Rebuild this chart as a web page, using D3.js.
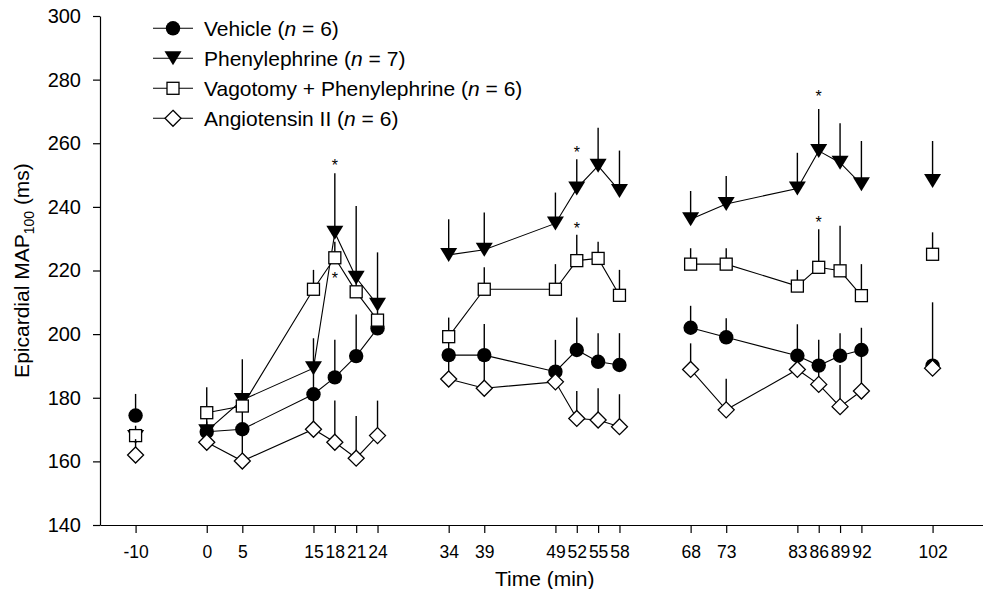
<!DOCTYPE html>
<html>
<head>
<meta charset="utf-8">
<script src="https://cdn.jsdelivr.net/npm/d3@7"></script>
<style>
body { margin: 0; background: #fff; }
svg { display: block; font-family: "Liberation Sans", Arial, Helvetica, sans-serif; }
</style>
</head>
<body>
<script>
var WIDTH = 983, HEIGHT = 589;

// sampling times (min) and which run of connected points each one belongs to
var times    = [-10, 0, 5, 15, 18, 21, 24, 34, 39, 49, 52, 55, 58, 68, 73, 83, 86, 89, 92, 102];
var segments = [  0, 1, 1,  1,  1,  1,  1,  2,  2,  2,  2,  2,  2,  3,  3,  3,  3,  3,  3,   4];

var vehicleMean = [174.4, 169.3, 170.1, 181.1, 186.4, 193.1, 201.8, 193.4, 193.4, 188.2, 195, 191.3, 190.3, 202, 199, 193.2, 190.1, 193.2, 195, 190.1];
var vehicleErr  = [6.8, 5, 6, 8, 11.8, 13.1, 4, 6, 9.8, 10, 10.2, 9, 10, 6.9, 6, 9.9, 8.1, 7.1, 7, 19.9];

var pheMean = [167.7, 169.5, 179.3, 189.3, 231.9, 217.7, 209.2, 224.9, 226.5, 234.8, 245.8, 252.9, 245, 236.1, 240.9, 245.8, 257.6, 253.9, 247.1, 248.1];
var pheErr  = [3.5, 3, 12.8, 9.4, 18.7, 22.6, 16.5, 11.2, 11.7, 9.7, 9.2, 12, 12.7, 8.9, 8.8, 11.2, 13.2, 12.4, 13.6, 12.6];

var vagMean = [168.1, 175.3, 177.4, 214.1, 224, 213.3, 204.4, 199.2, 214.1, 214.1, 223.1, 223.8, 212.2, 222, 222, 215.1, 221, 219.9, 212.1, 225.1];
var vagErr  = [2, 8, 5, 6.1, 5, 4, 3, 6, 6.9, 7.9, 8.1, 5.2, 8, 5, 5, 5.1, 12, 14.2, 9.9, 6.9];

var angMean = [162, 166, 160.1, 170.1, 166, 161, 168.1, 185.9, 183, 185, 173.5, 173, 170.9, 188.9, 176.2, 188.9, 184.2, 177.2, 182.1, 189.3];
var angErr  = [5, 3, 10, 10, 13.1, 13.3, 11, 6, 10, 5, 8.6, 10, 10.2, 8.2, 9.8, 5, 6, 13.1, 12, 2];

// significance marks
var starTimes  = [18, 18, 52, 52, 86, 86];
var starValues = [254.2, 218.6, 258.1, 234.3, 275.7, 236.1];

var yTicks = [140, 160, 180, 200, 220, 240, 260, 280, 300];

var series = [
    {label: "Vehicle", n: 6, mean: vehicleMean, err: vehicleErr, symbol: "circle"},
    {label: "Phenylephrine", n: 7, mean: pheMean, err: pheErr, symbol: "triangle"},
    {label: "Vagotomy + Phenylephrine", n: 6, mean: vagMean, err: vagErr, symbol: "square"},
    {label: "Angiotensin II", n: 6, mean: angMean, err: angErr, symbol: "diamond"}
];
// order the groups are painted in (later ones sit on top)
var drawOrder = [1, 0, 2, 3];

var svg = d3.select("body")
    .append("svg")
    .attr("width", WIDTH)
    .attr("height", HEIGHT);

var x = d3.scaleLinear().domain([-15, 110]).range([100, 989.5]);
var y = d3.scaleLinear().domain([140, 300]).range([525, 16]);

function drawSymbol(sel, type) {
    if (type === "circle") {
        sel.append("circle").attr("r", 7.2).attr("fill", "#000");
    } else if (type === "triangle") {
        sel.append("path").attr("d", "M-8.5,-7L8.5,-7L0,7Z").attr("fill", "#000");
    } else if (type === "square") {
        sel.append("rect").attr("x", -6).attr("y", -6).attr("width", 12).attr("height", 12)
            .attr("fill", "#fff").attr("stroke", "#000").attr("stroke-width", 1.3);
    } else {
        sel.append("path").attr("d", "M0,-8L8,0L0,8L-8,0Z")
            .attr("fill", "#fff").attr("stroke", "#000").attr("stroke-width", 1.3);
    }
}

// axes
var xAxis = d3.axisBottom(x)
    .tickValues(times)
    .tickFormat(function (d) { return d; })
    .tickSize(8)
    .tickSizeOuter(0)
    .tickPadding(12.5);

var gx = svg.append("g")
    .attr("transform", "translate(0," + y(140) + ")")
    .call(xAxis);
gx.selectAll("text").style("font-size", "17.5px").attr("fill", "#000");

var yAxis = d3.axisLeft(y)
    .tickValues(yTicks)
    .tickSize(7)
    .tickSizeOuter(0)
    .tickPadding(12);

var gy = svg.append("g")
    .attr("transform", "translate(" + x(-15) + ",0)")
    .call(yAxis);
gy.selectAll("text").style("font-size", "20px").attr("fill", "#000");

svg.selectAll(".domain, .tick line").attr("stroke", "#000").attr("stroke-width", 1.2);

// axis titles
svg.append("text")
    .attr("x", (x.range()[0] + x.range()[1]) / 2)
    .attr("y", 586)
    .attr("text-anchor", "middle")
    .style("font-size", "21px")
    .text("Time (min)");

var yTitle = svg.append("text")
    .attr("transform", "translate(29," + (y(140) + y(300)) / 2 + ") rotate(-90)")
    .attr("text-anchor", "middle")
    .style("font-size", "21px");
yTitle.append("tspan").text("Epicardial MAP");
yTitle.append("tspan").attr("dy", 5).style("font-size", "14px").text("100");
yTitle.append("tspan").attr("dy", -5).text(" (ms)");

// data
var plot = svg.append("g");

drawOrder.forEach(function (si) {
    var s = series[si];
    var pts = times.map(function (t, i) {
        return {t: t, v: s.mean[i], e: s.err[i], seg: segments[i]};
    });
    var g = plot.append("g");

    var bySeg = d3.groups(pts, function (d) { return d.seg; });
    var line = d3.line()
        .x(function (d) { return x(d.t); })
        .y(function (d) { return y(d.v); });
    bySeg.forEach(function (grp) {
        if (grp[1].length < 2) return;
        g.append("path")
            .attr("d", line(grp[1]))
            .attr("fill", "none")
            .attr("stroke", "#000")
            .attr("stroke-width", 1.1);
    });

    g.selectAll(".err")
        .data(pts)
        .enter()
        .append("line")
        .attr("x1", function (d) { return x(d.t); })
        .attr("x2", function (d) { return x(d.t); })
        .attr("y1", function (d) { return y(d.v); })
        .attr("y2", function (d) { return y(d.v + d.e); })
        .attr("stroke", "#000")
        .attr("stroke-width", 1.4);

    g.selectAll(".mark")
        .data(pts)
        .enter()
        .append("g")
        .attr("transform", function (d) { return "translate(" + x(d.t) + "," + y(d.v) + ")"; })
        .each(function () { drawSymbol(d3.select(this), s.symbol); });
});

// asterisks
svg.selectAll(".star")
    .data(starTimes)
    .enter()
    .append("text")
    .attr("x", function (d) { return x(d); })
    .attr("y", function (d, i) { return y(starValues[i]) + 9; })
    .attr("text-anchor", "middle")
    .style("font-size", "16px")
    .text("*");

// legend
var legend = svg.append("g");
series.forEach(function (s, i) {
    var cy = 28.3 + i * 30;
    var row = legend.append("g").attr("transform", "translate(0," + cy + ")");
    row.append("line").attr("x1", 153).attr("x2", 193)
        .attr("stroke", "#000").attr("stroke-width", 1.1);
    drawSymbol(row.append("g").attr("transform", "translate(173,0)"), s.symbol);
    var txt = row.append("text").attr("x", 204).attr("y", 7.5).style("font-size", "21px");
    txt.append("tspan").text(s.label + " (");
    txt.append("tspan").style("font-style", "italic").text("n");
    txt.append("tspan").text(" = " + s.n + ")");
});
</script>
</body>
</html>
